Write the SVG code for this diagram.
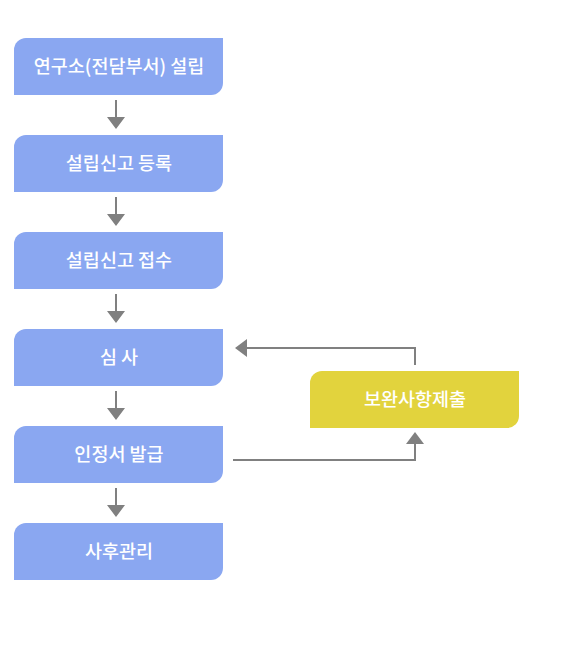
<svg xmlns="http://www.w3.org/2000/svg" width="570" height="650" viewBox="0 0 570 650">
<defs>
<style>
.b{fill:#8aa7f1}
.y{fill:#e2d33d}
.t{fill:#fff;font-family:"Noto Sans CJK KR","Noto Sans",sans-serif;font-size:18.5px;font-weight:500;text-anchor:middle;dominant-baseline:central}
.c{stroke:#808080;stroke-width:2;fill:none}
.h{fill:#808080}
</style>
</defs>
<rect width="570" height="650" fill="#fff"/>
<g id="n1"><path class="b" d="M26,38H223V83A12,12 0 0 1 211,95H14V50A12,12 0 0 1 26,38Z"/><text class="t" x="119" y="64.5">연구소(전담부서) 설립</text></g>
<g id="n2"><path class="b" d="M26,135H223V180A12,12 0 0 1 211,192H14V147A12,12 0 0 1 26,135Z"/><text class="t" x="119" y="161.5">설립신고 등록</text></g>
<g id="n3"><path class="b" d="M26,232H223V277A12,12 0 0 1 211,289H14V244A12,12 0 0 1 26,232Z"/><text class="t" x="119" y="258.5">설립신고 접수</text></g>
<g id="n4"><path class="b" d="M26,329H223V374A12,12 0 0 1 211,386H14V341A12,12 0 0 1 26,329Z"/><text class="t" x="119" y="355.5">심 사</text></g>
<g id="n5"><path class="b" d="M26,426H223V471A12,12 0 0 1 211,483H14V438A12,12 0 0 1 26,426Z"/><text class="t" x="119" y="452.5">인정서 발급</text></g>
<g id="n6"><path class="b" d="M26,523H223V568A12,12 0 0 1 211,580H14V535A12,12 0 0 1 26,523Z"/><text class="t" x="119" y="549.5">사후관리</text></g>
<g id="n7"><path class="y" d="M322,371H519V416A12,12 0 0 1 507,428H310V383A12,12 0 0 1 322,371Z"/><text class="t" x="415" y="397.5">보완사항제출</text></g>
<g id="connectors">
<path class="c" d="M116,100V118M116,197V215M116,294V312M116,391V409M116,488V506"/>
<path class="h" d="M107,117H125L116,129ZM107,214H125L116,226ZM107,311H125L116,323ZM107,408H125L116,420ZM107,505H125L116,517Z"/>
<path class="c" d="M415,365V348H246"/>
<path class="h" d="M247,339V357L235,348Z"/>
<path class="c" d="M233,460H415V443"/>
<path class="h" d="M406,444H424L415,432Z"/>
</g>
</svg>
